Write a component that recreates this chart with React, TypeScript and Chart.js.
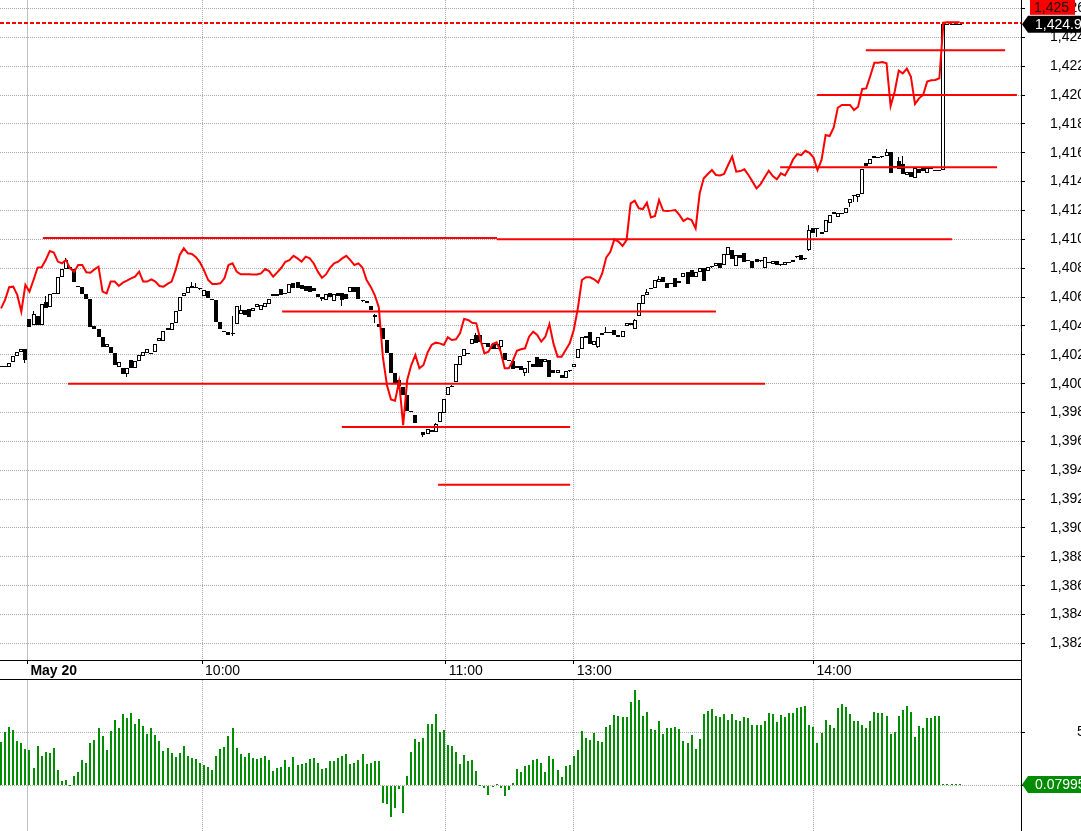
import React, { useEffect, useRef } from "react";
import { Chart, registerables } from "chart.js";

Chart.register(...registerables);

const FONT = '"Liberation Sans", Arial, sans-serif';

// ---- bar index axis (1-minute bars) ----
const X_MIN = -0.25;
const X_MAX = 251.1;
const TIME_TICK_INDEX = [6.5, 49.5, 109.5, 141, 200];
const TIME_TICK_LABELS = ["May 20", "10:00", "11:00", "13:00", "14:00"];

// ---- price axis ----
const Y_MIN = 1380.85;
const Y_MAX = 1426.585;
const PRICE_TICKS = [1382, 1384, 1386, 1388, 1390, 1392, 1394, 1396, 1398, 1400, 1402, 1404, 1406, 1408, 1410, 1412, 1414, 1416, 1418, 1420, 1422, 1424, 1426];
const LAST_PRICE = 1424.9;
const ALERT_PRICE = 1425;

// ---- oscillator axis ----
const OSC_MIN = -4.31;
const OSC_MAX = 9.93;
const OSC_TICKS = [0, 5];
const LAST_OSC = 0.07995;

// ---- candles ----
const OPEN = [
  1401.15, 1401.2, 1401.18, 1401.48, 1401.94, 1402.17, 1402.4, 1404.46, 1404.07, 1404.69,
  1404.07, 1405.66, 1405.29, 1406.21, 1406.21, 1407.41, 1407.95, 1408.11, 1407.92, 1406.75,
  1406.72, 1406.21, 1405.87, 1404.0, 1403.79, 1403.21, 1402.56, 1402.56, 1402.1, 1401.18,
  1401.11, 1400.65, 1401.64, 1401.11, 1401.57, 1401.92, 1402.1, 1402.1, 1402.22, 1402.96,
  1402.98, 1403.88, 1403.72, 1404.23, 1405.03, 1406.1, 1406.25, 1406.6, 1406.68, 1406.58,
  1406.09, 1406.42, 1405.86, 1405.79, 1404.3, 1403.65, 1403.58, 1403.45, 1404.15, 1404.8,
  1405.1, 1405.17, 1405.03, 1405.3, 1405.08, 1405.33, 1405.52, 1406.21, 1406.05, 1406.56,
  1406.25, 1406.25, 1407.0, 1407.02, 1406.83, 1406.78, 1406.76, 1406.65, 1406.21, 1406.02,
  1405.79, 1406.25, 1405.72, 1406.25, 1406.25, 1406.21, 1406.32, 1406.67, 1406.67, 1405.75,
  1405.75, 1405.38, 1404.6, 1404.11, 1403.83, 1403.02, 1402.1, 1400.76, 1400.25, 1399.74,
  1399.21, 1398.13, 1397.8, 1397.06, 1396.62, 1396.51, 1396.79, 1396.62, 1397.36, 1397.99,
  1399.21, 1399.74, 1400.14, 1401.29, 1401.91, 1402.1, 1402.75, 1403.37, 1403.37, 1402.79,
  1402.79, 1402.72, 1402.38, 1402.56, 1402.1, 1401.64, 1401.57, 1401.22, 1401.22, 1400.71,
  1401.52, 1401.34, 1401.87, 1401.68, 1401.48, 1401.64, 1400.94, 1400.76, 1400.6, 1400.37,
  1400.9, 1401.13, 1401.75, 1402.38, 1403.14, 1403.55, 1402.68, 1402.56, 1403.53, 1403.53,
  1403.58, 1403.72, 1403.23, 1403.25, 1404.02, 1404.18, 1403.76, 1404.71, 1405.52, 1406.14,
  1406.6, 1406.6, 1407.07, 1407.41, 1407.0, 1406.95, 1407.34, 1406.95, 1407.41, 1407.71,
  1407.89, 1407.41, 1407.76, 1408.04, 1407.8, 1408.1, 1408.15, 1408.38, 1408.22, 1408.91,
  1409.26, 1408.15, 1408.91, 1409.03, 1408.57, 1408.52, 1408.61, 1408.52, 1407.99, 1408.4,
  1408.3, 1408.5, 1408.25, 1408.2, 1408.4, 1408.45, 1408.8, 1408.9, 1408.65, 1409.26,
  1410.76, 1410.76, 1410.37, 1410.53, 1411.11, 1411.76, 1411.57, 1411.8, 1411.8, 1412.54,
  1413.07, 1412.91, 1413.14, 1415.27, 1415.22, 1415.8, 1415.68, 1415.73, 1415.8, 1416.07,
  1415.08, 1415.45, 1415.2, 1414.46, 1414.69, 1414.23, 1414.85, 1414.92, 1414.57, 1414.92,
  1414.8, 1414.8, 1414.8, 1424.9, 1424.9, 1424.9, 1424.9,
];
const CLOSE = [
  1401.2, 1401.25, 1401.41, 1401.94, 1402.17, 1402.4, 1401.64, 1403.95, 1404.8, 1404.07,
  1405.52, 1405.27, 1406.21, 1406.31, 1407.41, 1407.92, 1408.55, 1407.92, 1407.02, 1406.7,
  1406.21, 1405.87, 1403.95, 1403.79, 1403.21, 1402.56, 1402.72, 1402.1, 1401.29, 1401.48,
  1400.65, 1401.11, 1401.11, 1401.57, 1401.96, 1402.17, 1402.4, 1402.1, 1402.72, 1403.19,
  1403.65, 1403.72, 1404.18, 1405.03, 1406.03, 1406.26, 1406.72, 1406.79, 1406.68, 1406.58,
  1406.49, 1405.91, 1405.79, 1404.29, 1403.79, 1403.6, 1403.4, 1403.5, 1405.35, 1405.1,
  1404.75, 1404.6, 1405.22, 1405.5, 1405.45, 1405.56, 1405.86, 1406.05, 1406.2, 1406.14,
  1406.25, 1406.88, 1406.6, 1406.6, 1406.56, 1406.44, 1406.37, 1406.4, 1406.02, 1405.86,
  1406.21, 1406.02, 1406.18, 1406.07, 1405.79, 1405.86, 1406.67, 1406.32, 1405.86, 1405.75,
  1405.61, 1405.1, 1404.76, 1403.95, 1403.07, 1402.1, 1400.76, 1400.07, 1399.84, 1399.21,
  1398.13, 1398.04, 1397.29, 1396.9, 1396.44, 1396.83, 1396.62, 1397.2, 1398.06, 1398.91,
  1399.74, 1399.84, 1401.36, 1401.91, 1402.38, 1402.1, 1403.07, 1402.79, 1402.91, 1402.79,
  1402.56, 1402.38, 1402.72, 1403.02, 1401.64, 1401.64, 1400.99, 1401.11, 1400.94, 1401.06,
  1401.52, 1401.13, 1401.13, 1401.18, 1401.68, 1400.48, 1400.76, 1400.94, 1400.37, 1400.9,
  1400.9, 1401.36, 1402.38, 1403.21, 1403.3, 1402.75, 1402.95, 1403.25, 1403.37, 1403.53,
  1403.58, 1403.37, 1403.37, 1403.67, 1404.18, 1404.06, 1404.41, 1405.56, 1406.14, 1406.37,
  1406.6, 1407.18, 1407.23, 1407.07, 1406.6, 1406.95, 1406.67, 1407.11, 1407.64, 1406.88,
  1407.37, 1407.76, 1408.04, 1407.13, 1408.1, 1408.1, 1408.34, 1407.99, 1408.96, 1409.49,
  1408.61, 1408.91, 1408.68, 1408.45, 1408.57, 1407.99, 1408.45, 1408.52, 1408.8, 1408.4,
  1408.5, 1408.2, 1408.25, 1408.4, 1408.4, 1408.6, 1408.8, 1408.6, 1408.65, 1410.65,
  1410.46, 1410.76, 1410.53, 1411.34, 1411.69, 1411.92, 1411.8, 1411.8, 1412.15, 1412.79,
  1413.07, 1413.14, 1414.85, 1415.1, 1415.57, 1415.61, 1415.68, 1415.73, 1416.07, 1414.57,
  1415.08, 1414.85, 1414.5, 1414.64, 1414.34, 1414.92, 1414.57, 1414.73, 1414.92, 1414.92,
  1414.8, 1414.8, 1424.9, 1424.9, 1424.9, 1424.9, 1424.9,
];
// wicks that stick out of the body: [bar index, price]
const WICK_HIGH: [number, number][] = [
  [8, 1405.03], [11, 1406.07], [16, 1408.7], [47, 1407.06], [48, 1406.95], [57, 1404.7], [59, 1405.45],
  [92, 1404.8], [107, 1397.3], [111, 1399.91], [117, 1403.53], [149, 1403.95], [156, 1404.46],
  [159, 1406.53], [162, 1407.48], [199, 1410.99], [218, 1416.24], [221, 1415.73], [222, 1415.77],
];
const WICK_LOW: [number, number][] = [
  [6, 1401.46], [31, 1400.49], [57, 1403.3], [79, 1405.72], [84, 1405.38], [92, 1404.22], [104, 1396.32],
  [123, 1402.15], [129, 1400.53], [130, 1400.76], [147, 1402.45], [199, 1409.21], [201, 1410.18],
  [209, 1412.26], [210, 1412.61], [211, 1412.61],
];

// ---- red comparison line ----
const RED_LINE = [
  1405.22, 1405.8, 1406.68, 1406.72, 1406.15, 1404.99, 1406.84, 1406.38, 1407.18, 1408.04,
  1408.06, 1408.57, 1409.19, 1409.08, 1408.46, 1408.34, 1408.57, 1407.99, 1407.76, 1408.22,
  1408.22, 1407.72, 1407.69, 1407.92, 1408.11, 1406.38, 1406.26, 1407.07, 1407.07, 1406.77,
  1407.0, 1407.14, 1407.3, 1407.42, 1407.76, 1407.07, 1407.07, 1407.23, 1407.07, 1406.77,
  1406.72, 1406.91, 1407.07, 1407.88, 1408.92, 1409.38, 1409.03, 1408.99, 1408.76, 1408.39,
  1407.83, 1407.18, 1406.91, 1406.91, 1406.95, 1407.3, 1408.22, 1408.34, 1407.76, 1407.58,
  1407.58, 1407.58, 1407.57, 1407.57, 1407.64, 1407.94, 1407.8, 1407.41, 1407.71, 1408.03,
  1408.45, 1408.56, 1408.86, 1408.68, 1408.45, 1408.8, 1408.68, 1408.33, 1407.76, 1407.34,
  1407.57, 1408.03, 1408.33, 1408.45, 1408.68, 1408.86, 1408.56, 1408.22, 1408.33, 1408.03,
  1407.18, 1406.72, 1406.14, 1405.3, 1401.87, 1399.91, 1398.91, 1398.82, 1400.14, 1397.13,
  1400.25, 1401.29, 1401.98, 1401.06, 1401.29, 1402.15, 1402.68, 1402.84, 1402.79, 1402.68,
  1403.21, 1403.02, 1403.07, 1403.49, 1404.48, 1404.41, 1404.22, 1404.18, 1403.07, 1402.1,
  1402.22, 1402.75, 1402.86, 1402.22, 1401.06, 1401.06, 1401.59, 1402.28, 1402.38, 1402.45,
  1403.25, 1403.6, 1403.37, 1402.91, 1403.25, 1404.13, 1402.79, 1401.87, 1401.87, 1402.33,
  1402.79, 1403.72, 1405.22, 1407.18, 1407.37, 1407.37, 1407.23, 1407.0, 1407.64, 1408.75,
  1409.14, 1410.0, 1409.84, 1409.54, 1409.95, 1412.49, 1412.68, 1412.15, 1412.1, 1412.54,
  1411.52, 1411.62, 1412.73, 1411.99, 1411.96, 1411.99, 1412.03, 1411.69, 1411.27, 1411.45,
  1411.34, 1410.76, 1413.19, 1414.23, 1414.53, 1414.8, 1414.46, 1414.43, 1414.53, 1415.15,
  1415.73, 1414.69, 1414.73, 1414.85, 1414.46, 1414.0, 1413.53, 1413.83, 1414.3, 1414.76,
  1414.39, 1414.16, 1414.57, 1414.43, 1414.92, 1415.54, 1415.91, 1415.84, 1416.14, 1416.0,
  1415.68, 1414.8, 1415.5, 1417.23, 1417.16, 1417.76, 1419.12, 1419.31, 1419.31, 1419.31,
  1418.96, 1419.19, 1420.42, 1420.46, 1421.32, 1422.24, 1422.24, 1422.29, 1422.2, 1419.24,
  1420.23, 1421.69, 1421.5, 1421.83, 1421.27, 1419.38, 1419.77, 1420.0, 1420.93, 1421.02,
  1421.04, 1421.16, 1425.01, 1425.04, 1425.04, 1425.04, 1425.04,
];

// ---- horizontal levels: [from bar, to bar, price] ----
const LEVELS: [number, number, number][] = [
  [10.3, 122.1, 1410.1],
  [122.1, 234.1, 1410.0],
  [69.2, 176.0, 1405.0],
  [16.5, 188.1, 1400.0],
  [83.9, 140.1, 1397.0],
  [107.6, 140.1, 1393.0],
  [191.8, 245.2, 1415.0],
  [200.9, 250.1, 1420.0],
  [212.9, 247.2, 1423.1],
];

// ---- oscillator histogram ----
const OSC = [
  4.1, 5.0, 5.5, 5.2, 4.2, 4.0, 3.4, 3.3, 1.6, 3.7,
  2.8, 3.1, 3.05, 3.5, 1.45, 0.4, 0.5, 0, 0.9, 1.25,
  2.4, 2.1, 4.0, 4.3, 5.4, 4.65, 3.3, 5.1, 6.2, 5.4,
  6.7, 6.35, 6.8, 5.8, 6.25, 5.6, 4.85, 5.4, 4.75, 4.2,
  3.25, 3.5, 3.05, 2.7, 3.05, 3.7, 2.8, 2.6, 2.5, 2.1,
  1.9, 1.7, 1.45, 2.8, 3.4, 3.6, 4.65, 5.4, 3.5, 2.95,
  2.7, 3.05, 2.6, 2.5, 2.6, 2.8, 2.4, 1.35, 1.6, 1.7,
  2.4, 1.7, 2.7, 1.9, 2.0, 2.1, 2.5, 2.6, 2.1, 1.55,
  1.6, 2.3,
  2.3, 2.6, 2.75, 2.95, 2.0, 2.1, 2.4, 2.95, 2.0, 2.1,
  2.3, 2.3, -1.65, -1.75, -3.0, -2.15, -0.35, -2.6, 0.9, 3.15,
  4.35, 4.1, 4.45, 5.8, 5.8, 6.7, 5.0, 5.2, 3.8, 3.7,
  3.15, 2.0, 2.85, 2.3, 2.4, 1.35, 0, -0.25, -0.9, -0.15,
  0.1, -0.25, -1.0, -0.45, 0.2, 1.55, 1.25, 1.8, 1.9, 2.4,
  2.5, 2.1, 1.25, 2.75, 2.5, 1.45, 0.8, 1.8, 1.9, 2.75,
  3.3, 5.1, 4.45, 4.3,
  4.9, 4.2, 4.1, 5.5, 5.7, 6.65, 6.55, 6.4, 6.4, 7.9,
  9.0, 8.05, 6.5, 6.95, 5.35, 5.25, 6.1, 4.8, 5.45, 5.45,
  5.5, 5.35, 4.2, 4.0, 4.7, 3.4, 4.4, 6.75, 7.0, 7.2,
  6.55, 6.4, 6.75, 6.2, 6.75, 6.2, 6.1, 6.45, 6.3, 5.7,
  5.7, 5.7, 6.1, 6.85, 6.75, 6.0, 6.65, 6.45, 6.85, 6.85,
  7.3, 7.4, 7.5, 5.7, 5.5, 4.0, 4.9, 6.2, 5.7, 5.45,
  7.3, 7.7, 7.4, 6.75, 6.1, 6.1, 5.7, 5.45, 6.1, 6.95,
  6.85, 6.85, 6.55, 4.8, 5.05, 6.55, 7.1, 7.5, 6.95, 4.6,
  5.6, 5.45, 6.3, 6.3, 6.55, 6.55,
  0.08, 0.08, 0.08, 0.08, 0.08,
];

const GRID_COLOR = "#ababab";
const DAY_LINE_COLOR = "#c3c3c3";

function timeTicks(scale: any) {
  scale.ticks = TIME_TICK_INDEX.map((v) => ({ value: v }));
}
const vDash = (ctx: any) => (ctx.type === "tick" && ctx.index !== 0 ? [1, 1] : []);
const hDash = (ctx: any) => (ctx.type === "tick" ? [1, 1] : []);

// Snap bar rectangles to whole pixels so candles stay crisp.
const snapBars = {
  id: "snapBars",
  afterDatasetsUpdate(chart: any) {
    chart.data.datasets.forEach((ds: any, di: number) => {
      const meta = chart.getDatasetMeta(di);
      if (meta.type !== "bar" || meta.hidden) return;
      const w = ds.barThickness || 1;
      meta.data.forEach((el: any) => {
        const bodyLeft = Math.round(el.x - 2);
        el.x = w === 1 ? bodyLeft + 1.5 : Math.round(el.x - w / 2) + w / 2;
        let y = Math.round(el.y);
        let b = Math.round(el.base);
        if (Math.abs(b - y) < 1) b = y + (el.base >= el.y ? 1 : -1);
        el.y = y;
        el.base = b;
        el.height = b - y;
      });
    });
  },
};

function drawTag(ctx: CanvasRenderingContext2D, x0: number, y: number, right: number, color: string, text: string) {
  ctx.fillStyle = color;
  ctx.beginPath();
  ctx.moveTo(x0, y);
  ctx.lineTo(x0 + 6, y - 8.5);
  ctx.lineTo(right, y - 8.5);
  ctx.lineTo(right, y + 8.5);
  ctx.lineTo(x0 + 6, y + 8.5);
  ctx.closePath();
  ctx.fill();
  ctx.fillStyle = "#ffffff";
  ctx.font = `14px ${FONT}`;
  ctx.textAlign = "left";
  ctx.textBaseline = "middle";
  ctx.fillText(text, x0 + 13, y + 0.5);
}

export default function App() {
  const mainRef = useRef<HTMLCanvasElement>(null);
  const oscRef = useRef<HTMLCanvasElement>(null);

  useEffect(() => {
    if (!mainRef.current || !oscRef.current) return;

    const hi = new Map(WICK_HIGH);
    const lo = new Map(WICK_LOW);
    const bodies: any[] = [];
    const bodyColors: string[] = [];
    const wicks: any[] = [];
    OPEN.forEach((o, i) => {
      const c = CLOSE[i];
      const top = Math.max(o, c);
      const bot = Math.min(o, c);
      if (top - bot < 0.06) {
        const m = (top + bot) / 2;
        bodies.push({ x: i, y: [m - 0.03, m + 0.03] });
        bodyColors.push("#000000");
      } else {
        bodies.push({ x: i, y: [bot, top] });
        bodyColors.push(c > o ? "#ffffff" : "#000000");
      }
      const h = Math.max(top, hi.get(i) ?? top);
      const l = Math.min(bot, lo.get(i) ?? bot);
      wicks.push({ x: i, y: [l, h] });
    });

    const mainDecor = {
      id: "mainDecor",
      afterDatasetsDraw(chart: any) {
        const { ctx, chartArea, scales } = chart;
        const py = Math.round(scales.y.getPixelForValue(ALERT_PRICE));
        ctx.save();
        ctx.strokeStyle = "#ff0000";
        ctx.lineWidth = 2;
        ctx.setLineDash([4, 2]);
        ctx.beginPath();
        ctx.moveTo(chartArea.left, py);
        ctx.lineTo(chartArea.right, py);
        ctx.stroke();
        ctx.restore();
      },
      afterDraw(chart: any) {
        const { ctx, chartArea, scales, width, height } = chart;
        const ax = chartArea.right;
        ctx.save();
        ctx.strokeStyle = "#000";
        ctx.lineWidth = 1;
        ctx.setLineDash([]);
        ctx.beginPath();
        ctx.moveTo(ax + 0.5, chartArea.bottom);
        ctx.lineTo(ax + 0.5, height);
        ctx.moveTo(0, height - 0.5);
        ctx.lineTo(ax + 1, height - 0.5);
        ctx.stroke();
        const ly = scales.y.getPixelForValue(LAST_PRICE);
        // alert tag sits above the last-price tag
        const rTop = ly - 8.5 - 16;
        ctx.fillStyle = "#ff0000";
        ctx.fillRect(ax + 9, rTop, 45, 15);
        ctx.fillStyle = "#1b1010";
        ctx.font = `14px ${FONT}`;
        ctx.textAlign = "left";
        ctx.textBaseline = "middle";
        ctx.fillText(ALERT_PRICE.toLocaleString("en-US"), ax + 13, rTop + 8);
        drawTag(ctx, ax + 1, ly, width, "#000000",
          LAST_PRICE.toLocaleString("en-US", { minimumFractionDigits: 1, maximumFractionDigits: 1 }));
        ctx.restore();
      },
    };

    const main = new Chart(mainRef.current, {
      type: "bar",
      data: {
        datasets: [
          {
            type: "line",
            data: RED_LINE.map((y, i) => ({ x: i, y })),
            borderColor: "#ff0000",
            borderWidth: 2,
            pointRadius: 0,
            tension: 0,
            order: 1,
          } as any,
          ...LEVELS.map(([a, b, p]) => ({
            type: "line",
            data: [{ x: a, y: p }, { x: b, y: p }],
            borderColor: "#ff0000",
            borderWidth: 2,
            pointRadius: 0,
            order: 0,
          })),
          {
            type: "bar",
            data: wicks,
            backgroundColor: "#000000",
            barThickness: 1,
            inflateAmount: 0,
            grouped: false,
            order: 3,
          },
          {
            type: "bar",
            data: bodies,
            backgroundColor: bodyColors,
            borderColor: "#000000",
            borderWidth: 1,
            borderSkipped: false,
            inflateAmount: 0,
            barThickness: 4,
            grouped: false,
            order: 2,
          },
        ] as any,
      },
      options: {
        animation: false,
        responsive: false,
        maintainAspectRatio: false,
        layout: { padding: 0 },
        plugins: { legend: { display: false }, tooltip: { enabled: false } },
        scales: {
          x: {
            type: "linear",
            min: X_MIN,
            max: X_MAX,
            offset: false,
            position: "bottom",
            afterBuildTicks: timeTicks,
            afterFit: (s: any) => {
              s.height = 20;
              s.paddingLeft = 0;
              s.paddingRight = 0;
            },
            ticks: {
              autoSkip: false,
              maxRotation: 0,
              minRotation: 0,
              align: "start",
              labelOffset: 3,
              padding: -1,
              color: "#000",
              font: (ctx: any) => ({ family: FONT, size: 14, weight: ctx.index === 0 ? "bold" : "normal" }),
              callback: (_v: any, i: number) => TIME_TICK_LABELS[i],
            },
            grid: {
              offset: false,
              color: (ctx: any) => (ctx.index === 0 ? DAY_LINE_COLOR : GRID_COLOR),
              lineWidth: 1,
              tickLength: 4,
              tickColor: "#000",
            },
            border: { display: true, color: "#000", width: 1, dash: vDash },
          },
          y: {
            type: "linear",
            position: "right",
            min: Y_MIN,
            max: Y_MAX,
            afterBuildTicks: (s: any) => {
              s.ticks = PRICE_TICKS.map((v) => ({ value: v }));
            },
            afterFit: (s: any) => {
              s.width = 60;
              s.paddingTop = 0;
              s.paddingBottom = 0;
            },
            ticks: {
              padding: 25,
              color: "#000",
              crossAlign: "near",
              font: { family: FONT, size: 14 },
              callback: (v: any) => Number(v).toLocaleString("en-US"),
            },
            grid: { color: GRID_COLOR, lineWidth: 1, tickLength: 4, tickColor: "#000" },
            border: { display: true, color: "#000", width: 1, dash: hDash },
          },
        },
      } as any,
      plugins: [snapBars, mainDecor],
    });

    const oscDecor = {
      id: "oscDecor",
      afterDraw(chart: any) {
        const { ctx, chartArea, scales, width } = chart;
        ctx.save();
        drawTag(ctx, chartArea.right + 1, scales.y.getPixelForValue(LAST_OSC), width, "#008c00", String(LAST_OSC));
        ctx.restore();
      },
    };

    const osc = new Chart(oscRef.current, {
      type: "bar",
      data: {
        datasets: [
          {
            data: OSC.map((y, i) => ({ x: i, y })),
            backgroundColor: "#008f00",
            barThickness: 2,
            inflateAmount: 0,
            grouped: false,
          },
        ] as any,
      },
      options: {
        animation: false,
        responsive: false,
        maintainAspectRatio: false,
        layout: { padding: 0 },
        plugins: { legend: { display: false }, tooltip: { enabled: false } },
        scales: {
          x: {
            type: "linear",
            min: X_MIN,
            max: X_MAX,
            offset: false,
            afterBuildTicks: timeTicks,
            afterFit: (s: any) => {
              s.height = 0;
              s.paddingLeft = 0;
              s.paddingRight = 0;
            },
            ticks: { display: false },
            grid: {
              offset: false,
              drawTicks: false,
              color: (ctx: any) => (ctx.index === 0 ? DAY_LINE_COLOR : GRID_COLOR),
            },
            border: { display: false, dash: vDash },
          },
          y: {
            type: "linear",
            position: "right",
            min: OSC_MIN,
            max: OSC_MAX,
            afterBuildTicks: (s: any) => {
              s.ticks = OSC_TICKS.map((v) => ({ value: v }));
            },
            afterFit: (s: any) => {
              s.width = 60;
              s.paddingTop = 0;
              s.paddingBottom = 0;
            },
            ticks: {
              padding: 52,
              color: "#000",
              crossAlign: "near",
              font: { family: FONT, size: 14 },
              callback: (v: any) => String(v),
            },
            grid: { color: GRID_COLOR, lineWidth: 1, tickLength: 4, tickColor: "#000" },
            border: { display: true, color: "#000", width: 1, dash: hDash },
          },
        },
      } as any,
      plugins: [snapBars, oscDecor],
    });

    return () => {
      main.destroy();
      osc.destroy();
    };
  }, []);

  return (
    <div style={{ position: "fixed", left: 0, top: 0, width: 1081, height: 831, background: "#fff", overflow: "hidden" }}>
      <canvas ref={mainRef} width={1081} height={680} style={{ position: "absolute", left: 0, top: 0, width: 1081, height: 680 }} />
      <canvas ref={oscRef} width={1081} height={151} style={{ position: "absolute", left: 0, top: 680, width: 1081, height: 151 }} />
    </div>
  );
}
